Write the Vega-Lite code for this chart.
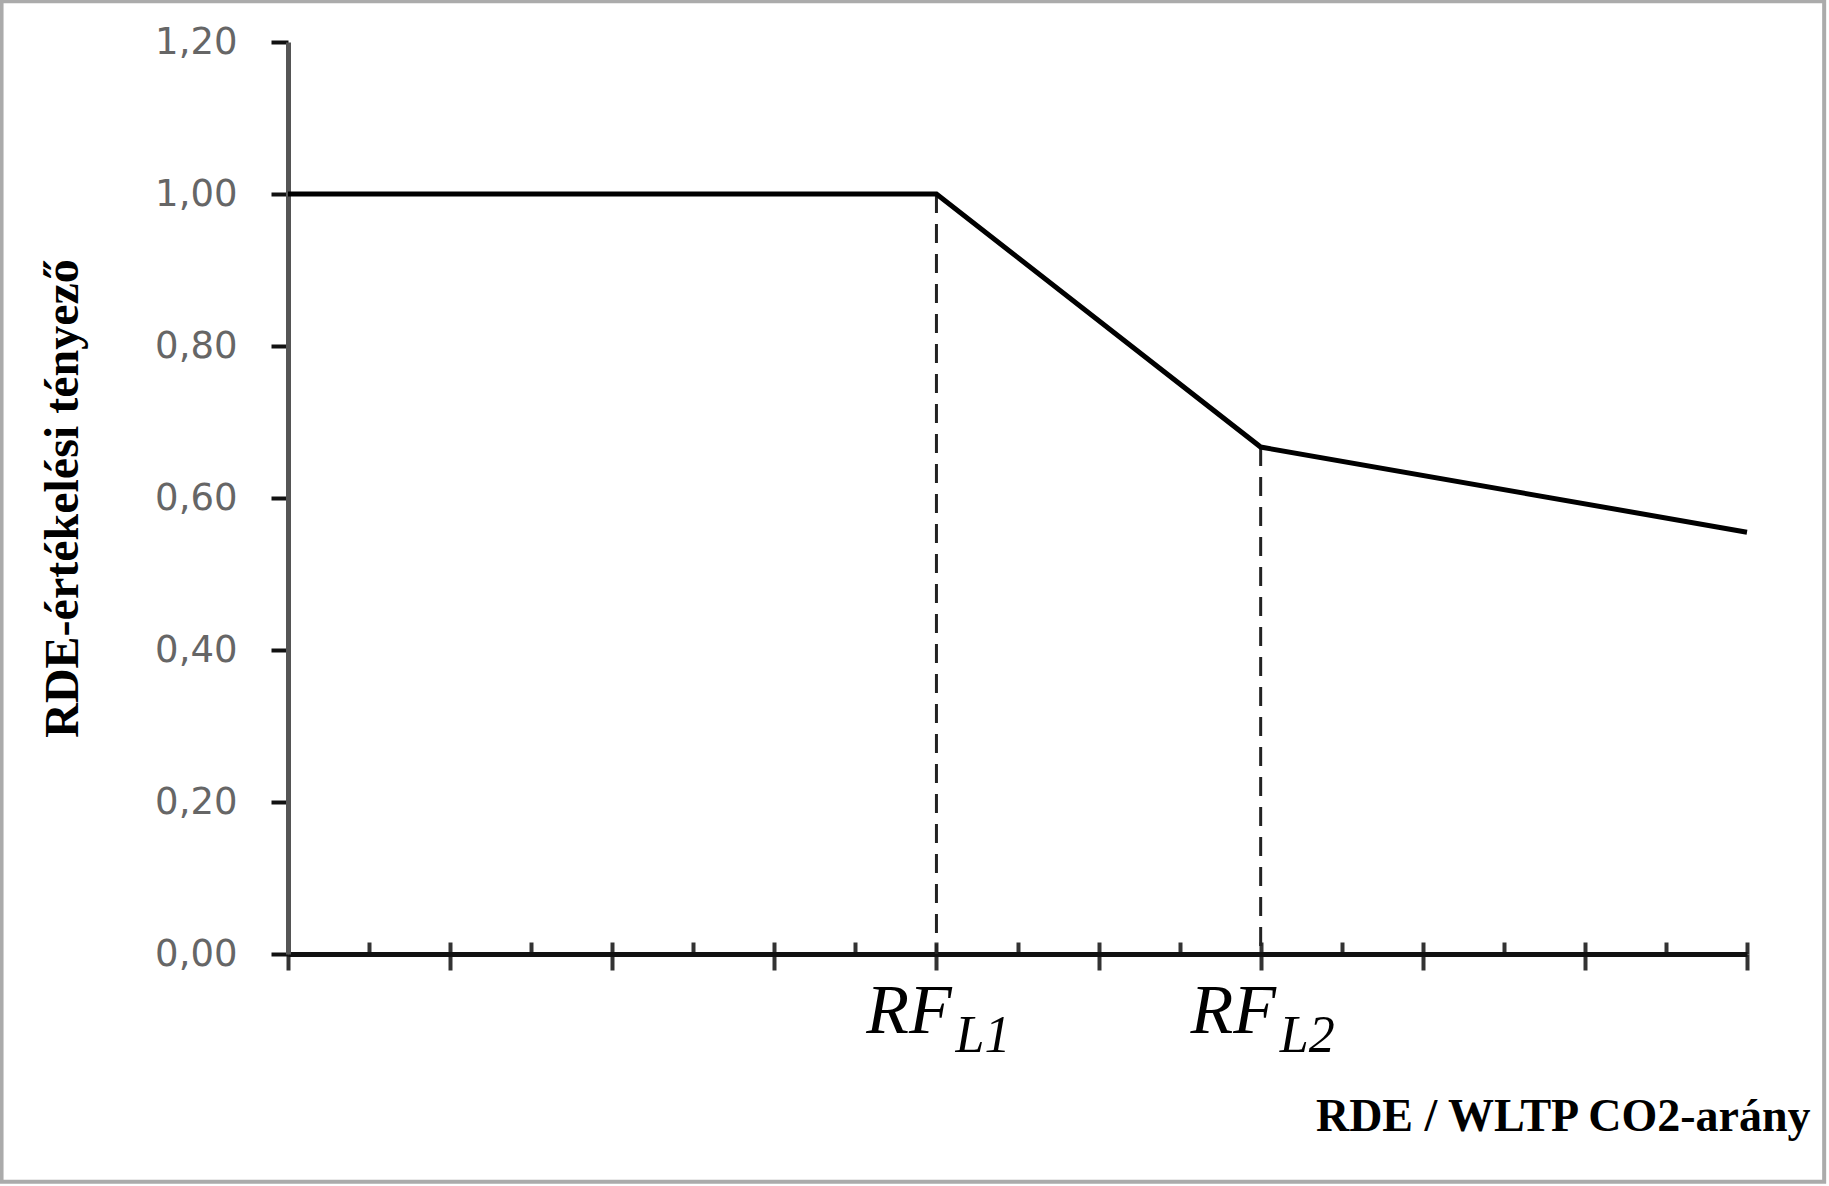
{
  "$schema": "https://vega.github.io/schema/vega-lite/v6.json",
  "width": 1459,
  "height": 912,
  "autosize": {"type": "none"},
  "padding": {"left": 288, "top": 42, "right": 82, "bottom": 232},
  "background": "white",
  "config": {"view": {"stroke": null}, "axis": {"grid": false}},
  "datasets": {
    "curve": [
      {"ratio": 0, "factor": 1.0},
      {"ratio": 4, "factor": 1.0},
      {"ratio": 6, "factor": 0.667},
      {"ratio": 9, "factor": 0.555}
    ],
    "limits": [
      {"ratio": 4, "factor": 1.0, "name": "RF_L1"},
      {"ratio": 6, "factor": 0.667, "name": "RF_L2"}
    ],
    "frame": [{"part": "border"}]
  },
  "resolve": {"axis": {"x": "independent", "y": "independent"}},
  "layer": [
    {
      "data": {"name": "frame"},
      "mark": {"type": "rect", "fill": "transparent", "stroke": "#ababab", "strokeWidth": 4, "clip": false},
      "encoding": {
        "x": {
          "datum": -1.767, "type": "quantitative",
          "scale": {"domain": [0, 9], "nice": false, "zero": false},
          "axis": {
            "orient": "bottom", "values": [4, 6], "labelExpr": "'RF'",
            "ticks": false, "tickSize": 0, "domain": false,
            "labelFont": "Liberation Serif", "labelFontStyle": "italic", "labelFontSize": 70,
            "labelColor": "#000", "labelPadding": 78, "labelBaseline": "alphabetic",
            "labelOffset": -28, "labelAlign": "center", "labelOverlap": false, "labelFlush": false,
            "title": null
          }
        },
        "x2": {"datum": 9.476},
        "y": {"datum": 1.2536, "type": "quantitative", "scale": {"domain": [0, 1.2], "nice": false, "zero": false}, "axis": null},
        "y2": {"datum": -0.2997}
      }
    },
    {
      "data": {"name": "limits"},
      "mark": {"type": "rule", "color": "#222", "strokeWidth": 3, "strokeDash": [19, 11]},
      "encoding": {
        "x": {
          "field": "ratio", "type": "quantitative",
          "axis": {
            "orient": "bottom", "values": [0, 1, 2, 3, 4, 5, 6, 7, 8, 9],
            "tickSize": 16, "tickWidth": 4, "tickColor": "#333",
            "labels": false, "domain": false, "title": null
          }
        },
        "y": {"field": "factor", "type": "quantitative", "axis": null},
        "y2": {"datum": 0}
      }
    },
    {
      "data": {"name": "curve"},
      "mark": {"type": "line", "color": "#000", "strokeWidth": 5},
      "encoding": {
        "x": {
          "field": "ratio", "type": "quantitative",
          "axis": {
            "orient": "bottom",
            "values": [0, 0.5, 1, 1.5, 2, 2.5, 3, 3.5, 4, 4.5, 5, 5.5, 6, 6.5, 7, 7.5, 8, 8.5, 9],
            "tickSize": -12, "tickWidth": 4, "tickColor": "#333",
            "labels": false, "domain": true, "domainColor": "#111", "domainWidth": 5,
            "title": "RDE / WLTP CO2-arány",
            "titleFont": "Liberation Serif", "titleFontWeight": "bold", "titleFontSize": 46,
            "titleColor": "#000", "titleAlign": "right", "titleBaseline": "alphabetic",
            "titleX": 1522, "titleY": 176
          }
        },
        "y": {
          "field": "factor", "type": "quantitative",
          "axis": {
            "orient": "left",
            "values": [0, 0.2, 0.4, 0.6, 0.8, 1.0, 1.2],
            "labelExpr": "replace(format(datum.value, '.2f'), '.', ',')",
            "tickSize": 17, "tickWidth": 4, "tickColor": "#111",
            "domainColor": "#555", "domainWidth": 5,
            "labelFont": "DejaVu Sans", "labelFontSize": 37, "labelColor": "#666",
            "labelPadding": 34,
            "title": "RDE-értékelési tényező",
            "titleFont": "Liberation Serif", "titleFontWeight": "bold", "titleFontSize": 48,
            "titleColor": "#000", "titleAngle": -90, "titleAlign": "center",
            "titleBaseline": "alphabetic", "titleX": -211, "titleY": 456
          }
        }
      }
    },
    {
      "data": {"name": "frame"},
      "mark": {"type": "text", "text": ""},
      "encoding": {
        "x": {
          "datum": 0, "type": "quantitative",
          "axis": {
            "orient": "bottom", "values": [4, 6],
            "labelExpr": "datum.value == 4 ? 'L1' : 'L2'",
            "ticks": false, "tickSize": 0, "domain": false,
            "labelFont": "Liberation Serif", "labelFontStyle": "italic", "labelFontSize": 52,
            "labelColor": "#000", "labelPadding": 97, "labelBaseline": "alphabetic",
            "labelOffset": 46, "labelAlign": "center", "labelOverlap": false, "labelFlush": false,
            "title": null
          }
        }
      }
    }
  ]
}
